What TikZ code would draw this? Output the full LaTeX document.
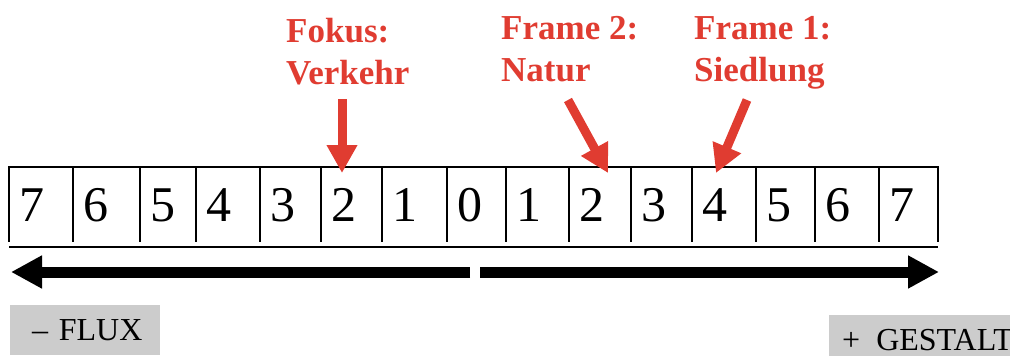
\documentclass[tikz,border=0pt]{standalone}
\usepackage{fontspec}
\setmainfont{Liberation Serif}
\usetikzlibrary{arrows.meta}
\definecolor{accentred}{RGB}{224,60,49}
\definecolor{boxgray}{RGB}{204,204,204}
\begin{document}
\begin{tikzpicture}[x=1pt,y=-1pt,
  digit/.style={anchor=base west, inner sep=0pt, font=\fontsize{50}{60}\selectfont},
  redlabel/.style={anchor=base west, inner sep=0pt, align=left, text=accentred,
    font=\fontsize{35}{42}\selectfont\bfseries},
  redarrow/.style={draw=accentred, line width=9pt, -{Triangle[length=28pt,width=29pt]}},
  blackarrow/.style={draw=black, line width=11pt, -{Triangle[length=31pt,width=31pt]}},
  gridline/.style={line width=2pt},
  flag/.style={fill=boxgray, inner sep=0pt, minimum height=50pt, text height=21pt,
    text depth=0pt, align=left, anchor=north west, font=\fontsize{32}{38}\selectfont}
]
\useasboundingbox (0,0) rectangle (1010,356);

% scale cells
\foreach \l/\d [count=\i] in {9/7,73/6,140/5,196/4,260/3,321/2,382/1,447/0,506/1,569/2,631/3,692/4,756/5,815/6,879/7}{
  \draw[gridline] (\l,166) -- (\l,242);
  \node[digit] (c\i) at (\l+10.5,221) {\d};
}
\draw[gridline] (938,166) -- (938,242);
\draw[gridline] (8,167) -- (939,167);
\draw[line width=2.5pt] (9,247) -- (938,247);

% red labels (anchor = baseline of the last line) and arrows
\node[redlabel] (fokus) at (286,84) {Fokus:\\Verkehr};
\node[redlabel] (frame2) at (501,81.5) {Frame 2:\\Natur};
\node[redlabel] (frame1) at (694,81.5) {Frame 1:\\Siedlung};

\coordinate (s1) at (342,99);
\coordinate (t1) at (342,173);
\coordinate (s2) at (568,100);
\coordinate (t2) at (608,173);
\coordinate (s3) at (747,100);
\coordinate (t3) at (716,173);
\draw[redarrow] (s1) -- (t1);
\draw[redarrow] (s2) -- (t2);
\draw[redarrow] (s3) -- (t3);

% black arrows
\coordinate (ls) at (470,272);
\coordinate (lt) at (11,272);
\coordinate (rs) at (480,272);
\coordinate (rt) at (939,272);
\draw[blackarrow] (ls) -- (lt);
\draw[blackarrow] (rs) -- (rt);

% grey flags
\node[flag, text width=150pt, text height=20pt] (flux) at (10,305) {\hspace*{22pt}–\ FLUX};
\node[flag, text width=220pt] (gestalt) at (829,315) {\hspace*{13pt}+\hspace{0.5em}GESTALT};
\end{tikzpicture}
\end{document}
